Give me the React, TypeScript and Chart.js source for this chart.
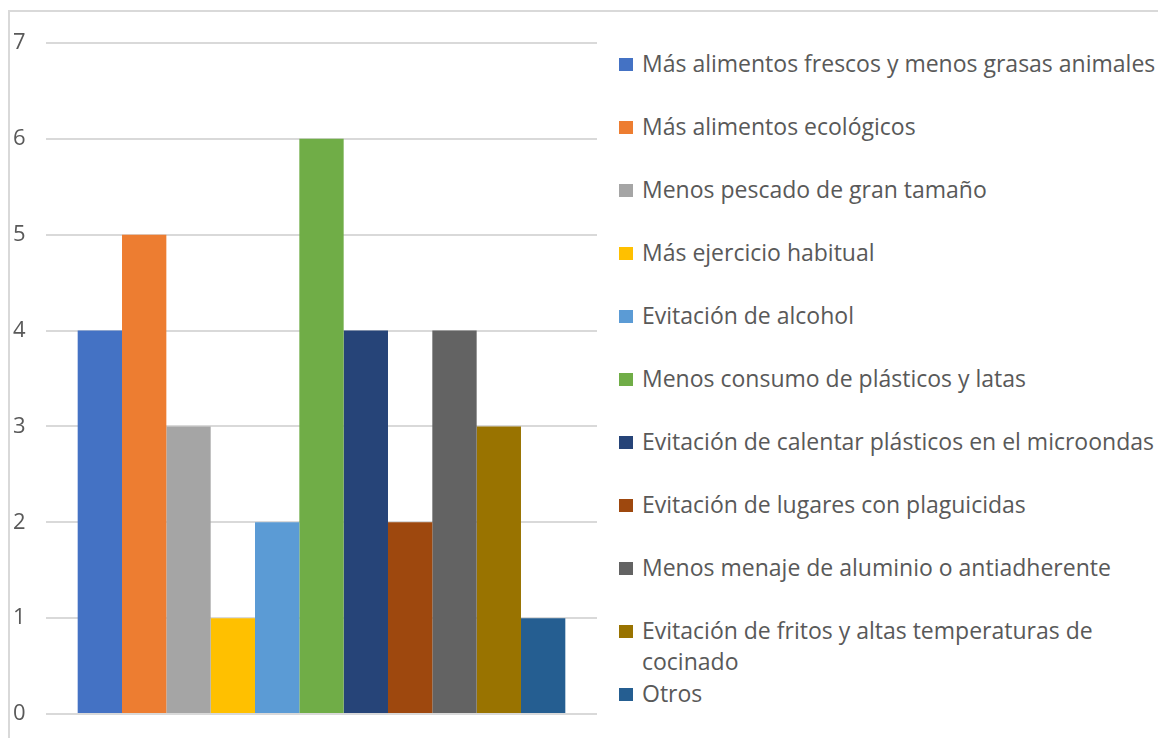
import React, { useEffect, useRef } from "react";
import { Chart, registerables } from "chart.js";

Chart.register(...registerables);

const categories: string[] = [""];
const seriesNames: string[] = [
  "Más alimentos frescos y menos grasas animales",
  "Más alimentos ecológicos",
  "Menos pescado de gran tamaño",
  "Más ejercicio habitual",
  "Evitación de alcohol",
  "Menos consumo de plásticos y latas",
  "Evitación de calentar plásticos en el microondas",
  "Evitación de lugares con plaguicidas",
  "Menos menaje de aluminio o antiadherente",
  "Evitación de fritos y altas temperaturas de cocinado",
  "Otros",
];
const seriesValues: number[] = [4, 5, 3, 1, 2, 6, 4, 2, 4, 3, 1];
const seriesColors: string[] = [
  "#4472C4",
  "#ED7D31",
  "#A5A5A5",
  "#FFC000",
  "#5B9BD5",
  "#70AD47",
  "#264478",
  "#9E480E",
  "#636363",
  "#997300",
  "#255E91",
];
const yTicks: number[] = [0, 1, 2, 3, 4, 5, 6, 7];

const FONT = "'Open Sans', 'Noto Sans', sans-serif";
const TEXT = "#595959";

export default function App() {
  const ref = useRef<HTMLCanvasElement | null>(null);

  useEffect(() => {
    if (!ref.current) return;
    const chart = new Chart(ref.current, {
      type: "bar",
      data: {
        labels: categories,
        datasets: seriesNames.map((name, i) => ({
          label: name,
          data: [seriesValues[i]],
          backgroundColor: seriesColors[i],
          borderWidth: 0,
        })),
      },
      options: {
        animation: false,
        responsive: false,
        maintainAspectRatio: false,
        layout: { padding: { left: 3, right: 2, top: 31, bottom: 24 } },
        datasets: { bar: { barPercentage: 1, categoryPercentage: 0.885 } },
        plugins: { legend: { display: false }, tooltip: { enabled: false } },
        scales: {
          x: { display: false },
          y: {
            min: 0,
            max: 7,
            afterFit: (axis: any) => {
              axis.width = 33;
            },
            afterBuildTicks: (axis: any) => {
              axis.ticks = yTicks.map((v) => ({ value: v }));
            },
            border: { display: false },
            grid: { color: "#D9D9D9", lineWidth: 2, drawTicks: false },
            ticks: {
              crossAlign: "far",
              padding: 0,
              color: TEXT,
              font: { family: FONT, size: 22 },
            },
          },
        },
      },
    });
    return () => chart.destroy();
  }, []);

  return (
    <div
      style={{
        position: "relative",
        width: 1158,
        height: 728,
        borderLeft: "2px solid #D9D9D9",
        borderTop: "2px solid #D9D9D9",
        marginTop: 2,
        boxSizing: "border-box",
        overflow: "hidden",
        fontFamily: FONT,
      }}
    >
      <canvas
        ref={ref}
        width={589}
        height={726}
        style={{ position: "absolute", left: 0, top: 0, display: "block" }}
      />
      <div
        style={{
          position: "absolute",
          left: 609,
          top: 36,
          width: 548,
          color: TEXT,
          fontSize: 23,
          lineHeight: "31px",
        }}
      >
        {seriesNames.map((name, i) => (
          <div key={name} style={{ display: "flex", alignItems: "flex-start", minHeight: 63 }}>
            <span
              style={{
                display: "inline-block",
                width: 14,
                height: 13,
                marginTop: 10,
                marginRight: 9,
                flex: "0 0 auto",
                background: seriesColors[i],
              }}
            />
            <span style={{ maxWidth: 522 }}>{name}</span>
          </div>
        ))}
      </div>
    </div>
  );
}
